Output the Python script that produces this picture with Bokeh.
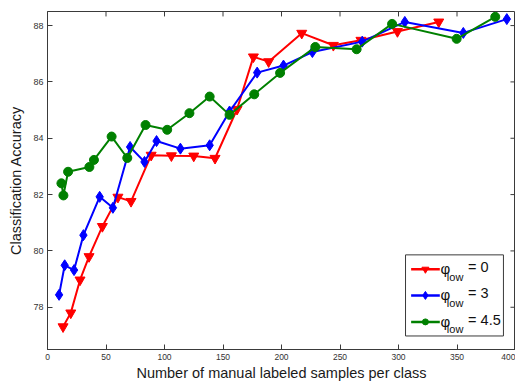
from bokeh.plotting import figure
from bokeh.models import Range1d, FixedTicker
from bokeh.core.properties import value
from bokeh.embed import file_html
from bokeh.resources import INLINE

# ---- data ----
red_x = [13.3, 19.9, 27.8, 35.5, 46.9, 60.2, 71.4, 88.6, 105.9, 125.0, 143.2, 162.0, 176.0, 189.0, 217.3, 244.3, 267.9, 299.1, 334.4]
red_y = [77.31, 77.80, 78.97, 79.80, 80.87, 81.91, 81.76, 83.40, 83.38, 83.37, 83.29, 85.03, 86.89, 86.72, 87.73, 87.30, 87.48, 87.79, 88.13]

blue_x = [9.9, 14.7, 22.7, 30.7, 44.6, 55.9, 70.6, 82.9, 93.2, 113.6, 138.6, 155.6, 179.2, 201.7, 226.4, 269.0, 305.4, 355.4, 392.6]
blue_y = [78.44, 79.49, 79.32, 80.56, 81.92, 81.53, 83.69, 83.16, 83.90, 83.63, 83.75, 84.95, 86.33, 86.58, 87.06, 87.43, 88.13, 87.74, 88.23]

green_x = [11.9, 13.6, 17.6, 35.8, 39.7, 54.8, 68.2, 83.8, 102.3, 121.3, 138.6, 155.6, 176.7, 198.8, 228.9, 264.2, 294.5, 349.7, 382.7]
green_y = [82.40, 81.97, 82.81, 82.98, 83.23, 84.06, 83.30, 84.47, 84.30, 84.89, 85.48, 84.83, 85.56, 86.32, 87.24, 87.16, 88.06, 87.53, 88.31]

x_ticks = [0, 50, 100, 150, 200, 250, 300, 350, 400]
y_ticks = [78, 80, 82, 84, 86, 88]
legend_values = ["0", "3", "4.5"]

RED = "#ff0000"
BLUE = "#0000ff"
GREEN = "#008000"
FONT = "Liberation Sans"
AX = "#3a3a3a"

X0, X1, Y0, Y1 = 0, 400, 76.5, 88.5

p = figure(width=515, height=383, x_range=Range1d(X0, X1), y_range=Range1d(Y0, Y1),
           output_backend="svg", toolbar_location=None,
           min_border_left=47, min_border_right=0, min_border_top=11, min_border_bottom=30)
p.grid.visible = False
p.outline_line_color = AX
p.background_fill_color = "white"
p.border_fill_color = "white"

for ax, ticks, fs in ((p.xaxis[0], x_ticks, "8.5px"), (p.yaxis[0], y_ticks, "9px")):
    ax.ticker = FixedTicker(ticks=ticks)
    ax.major_tick_in = 5
    ax.major_tick_out = 0
    ax.minor_tick_line_color = None
    ax.axis_line_color = AX
    ax.major_tick_line_color = AX
    ax.major_label_text_font = FONT
    ax.major_label_text_font_size = fs
    ax.major_label_text_color = "#333333"
    ax.major_label_standoff = 4
    ax.axis_label_text_font = FONT
    ax.axis_label_text_font_size = "14.5px"
    ax.axis_label_text_font_style = "normal"
    ax.axis_label_text_color = "#1a1a1a"

p.xaxis.axis_label = "Number of manual labeled samples per class"
p.yaxis.axis_label = "Classification Accuracy"
p.xaxis.axis_label_standoff = 2
p.yaxis.axis_label_standoff = 6

# inward ticks on the top and right sides of the box (5 px long)
tx = 5 * (X1 - X0) / 465.0
ty = 5 * (Y1 - Y0) / 342.0
p.segment(x0=x_ticks, x1=x_ticks, y0=[Y1] * len(x_ticks), y1=[Y1 - ty] * len(x_ticks),
          line_color=AX, line_width=1)
p.segment(x0=[X1] * len(y_ticks), x1=[X1 - tx] * len(y_ticks), y0=y_ticks, y1=y_ticks,
          line_color=AX, line_width=1)

# ---- series ----
p.line(red_x, red_y, line_color=RED, line_width=2)
p.scatter(red_x, red_y, marker="inverted_triangle", size=10, color=RED)
p.line(blue_x, blue_y, line_color=BLUE, line_width=2)
p.scatter(blue_x, blue_y, marker="diamond", size=11, color=BLUE)
p.line(green_x, green_y, line_color=GREEN, line_width=2)
p.scatter(green_x, green_y, marker="circle", size=9, color=GREEN)

# ---- custom legend (layout positions in data space of the fixed ranges) ----
p.quad(left=[306], right=[389.7], top=[79.86], bottom=[76.98],
       fill_color="white", line_color=AX, line_width=1)
rows = [79.35, 78.42, 77.48]
specs = [(RED, "inverted_triangle", 7), (BLUE, "diamond", 8), (GREEN, "circle", 6)]
for row, (col, mk, sz), val in zip(rows, specs, legend_values):
    p.line([310.8, 335.3], [row, row], line_color=col, line_width=2.5)
    p.scatter([323.0], [row], marker=mk, size=sz, color=col)
    p.text([335.9], [row + 0.02], text=["φ"], text_font=value(FONT), text_font_size="15px",
           text_baseline="middle", text_align="left", text_color="#111111")
    p.text([341.3], [row - 0.26], text=["low"], text_font=value(FONT), text_font_size="11px",
           text_baseline="middle", text_align="left", text_color="#111111")
    p.text([359.5], [row + 0.08], text=["= " + val], text_font=value(FONT), text_font_size="14.5px",
           text_baseline="middle", text_align="left", text_color="#111111")

open("out.html", "w").write(file_html(p, INLINE))
